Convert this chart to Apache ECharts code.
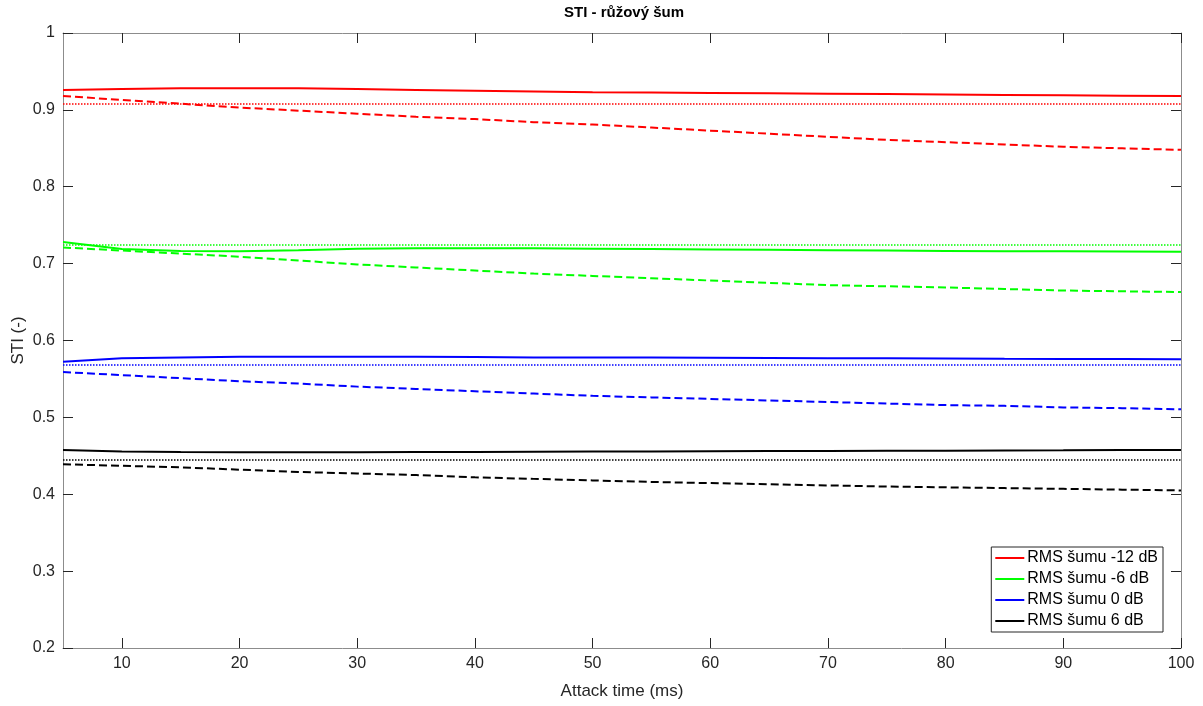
<!DOCTYPE html>
<html>
<head>
<meta charset="utf-8">
<script src="https://cdn.jsdelivr.net/npm/echarts@6/dist/echarts.min.js"></script>
<style>html,body{margin:0;padding:0;background:#fff}#c{width:1203px;height:706px}</style>
</head>
<body>
<div id="c"></div>
<script>
// Attack time (ms)
var attack = [5,10,15,20,25,30,35,40,45,50,55,60,65,70,75,80,85,90,95,100];
var xTicks = [10,20,30,40,50,60,70,80,90,100];
var yTicks = [0.2,0.3,0.4,0.5,0.6,0.7,0.8,0.9,1];

// RMS šumu -12 dB
var red_solid  = [0.926,0.927,0.928,0.928,0.928,0.927,0.926,0.925,0.924,0.923,0.9225,0.922,0.9215,0.921,0.9205,0.920,0.9195,0.919,0.9185,0.918];
var red_dashed = [0.918,0.913,0.908,0.903,0.899,0.895,0.891,0.888,0.884,0.881,0.877,0.873,0.869,0.865,0.861,0.858,0.855,0.852,0.850,0.848];
var red_dotted = [0.9075,0.9075,0.9075,0.9075,0.9075,0.9075,0.9075,0.9075,0.9075,0.9075,0.9075,0.9075,0.9075,0.9075,0.9075,0.9075,0.9075,0.9075,0.9075,0.9075];
// RMS šumu -6 dB
var green_solid  = [0.728,0.719,0.7165,0.716,0.7175,0.7195,0.720,0.720,0.720,0.7195,0.719,0.7185,0.718,0.7175,0.717,0.7165,0.716,0.716,0.7158,0.7155];
var green_dashed = [0.721,0.717,0.713,0.709,0.704,0.699,0.695,0.691,0.687,0.684,0.681,0.678,0.675,0.672,0.6705,0.669,0.667,0.665,0.664,0.663];
var green_dotted = [0.7243,0.7243,0.7243,0.7243,0.7243,0.7243,0.7243,0.7243,0.7243,0.7243,0.7243,0.7243,0.7243,0.7243,0.7243,0.7243,0.7243,0.7243,0.7243,0.7243];
// RMS šumu 0 dB
var blue_solid  = [0.5725,0.577,0.578,0.579,0.579,0.579,0.579,0.5785,0.578,0.578,0.5778,0.5775,0.5772,0.577,0.5768,0.5765,0.5762,0.576,0.5758,0.5755];
var blue_dashed = [0.559,0.555,0.551,0.547,0.544,0.540,0.537,0.534,0.531,0.528,0.526,0.524,0.522,0.520,0.518,0.516,0.515,0.513,0.512,0.5105];
var blue_dotted = [0.568,0.568,0.568,0.568,0.568,0.568,0.568,0.568,0.568,0.568,0.568,0.568,0.568,0.568,0.568,0.568,0.568,0.568,0.568,0.568];
// RMS šumu 6 dB
var black_solid  = [0.4577,0.4555,0.4548,0.4546,0.4546,0.4547,0.4549,0.4551,0.4553,0.4555,0.4557,0.4559,0.4561,0.4563,0.4565,0.4567,0.4569,0.4571,0.4574,0.4576];
var black_dashed = [0.439,0.437,0.435,0.432,0.429,0.427,0.425,0.422,0.420,0.418,0.416,0.4145,0.413,0.4115,0.410,0.409,0.408,0.407,0.406,0.405];
var black_dotted = [0.4446,0.4446,0.4446,0.4446,0.4446,0.4446,0.4446,0.4446,0.4446,0.4446,0.4446,0.4446,0.4446,0.4446,0.4446,0.4446,0.4446,0.4446,0.4446,0.4446];

var names = ['RMS šumu -12 dB','RMS šumu -6 dB','RMS šumu 0 dB','RMS šumu 6 dB'];
var colors = ['#ff0000','#00ff00','#0000ff','#000000'];
var groups = [
  [red_solid, red_dashed, red_dotted],
  [green_solid, green_dashed, green_dotted],
  [blue_solid, blue_dashed, blue_dotted],
  [black_solid, black_dashed, black_dotted]
];

function pairs(vals){ return attack.map(function(x,i){ return [x, vals[i]]; }); }

var FONT = 'Liberation Sans, Arial, Helvetica, sans-serif';
var series = [];
groups.forEach(function(g, k){
  series.push({name: names[k], type:'line', data: pairs(g[0]), showSymbol:false, symbol:'none',
    lineStyle:{color:colors[k], width:2, type:'solid'}, itemStyle:{color:colors[k]}, animation:false, z:3});
  series.push({name: names[k]+' d', type:'line', data: pairs(g[1]), showSymbol:false, symbol:'none',
    lineStyle:{color:colors[k], width:2, type:[8,4]}, itemStyle:{color:colors[k]}, animation:false, z:2});
  series.push({name: names[k]+' p', type:'line', data: pairs(g[2]), showSymbol:false, symbol:'none',
    lineStyle:{color:colors[k], width:1.5, type:[1.5,1.5]}, itemStyle:{color:colors[k]}, animation:false, z:2});
});

var axisLineStyle = {color:'#8c8c8c', width:1};
var tickStyle = {color:'#262626', width:1};

var chart = echarts.init(document.getElementById('c'), null, {renderer:'canvas'});
chart.setOption({
  backgroundColor:'#fff',
  animation:false,
  title:{text:'STI - růžový šum', left:619, top:0, textAlign:'center',
    textStyle:{fontFamily:FONT, fontSize:15, fontWeight:'bold', color:'#000'}},
  grid:{left:63, right:22, top:33, bottom:58, containLabel:false, outerBoundsMode:'none'},
  legend:{
    data: names.map(function(n,k){ return {name:n, icon:'rect'}; }),
    orient:'vertical', right:40, bottom:74,
    itemWidth:29, itemHeight:2, itemGap:5,
    padding:[3,5,3,4],
    backgroundColor:'#fff', borderColor:'#262626', borderWidth:1, borderRadius:0,
    textStyle:{fontFamily:FONT, fontSize:16, color:'#000', padding:[0,0,0,-2]},
    selectedMode:false
  },
  xAxis:[{
    type:'value', min:5, max:100, position:'bottom',
    name:'Attack time (ms)', nameLocation:'middle', nameGap:35, nameMoveOverlap:false,
    nameTextStyle:{fontFamily:FONT, fontSize:17, color:'#262626'},
    axisLine:{show:true, onZero:false, lineStyle:axisLineStyle},
    axisTick:{show:true, inside:true, length:10, customValues:xTicks, lineStyle:tickStyle},
    axisLabel:{show:true, customValues:xTicks, margin:8, fontFamily:FONT, fontSize:16, color:'#262626'},
    splitLine:{show:false}
  },{
    type:'value', min:5, max:100, position:'top',
    axisLine:{show:true, onZero:false, lineStyle:axisLineStyle},
    axisTick:{show:true, inside:true, length:10, customValues:xTicks, lineStyle:tickStyle},
    axisLabel:{show:false}, splitLine:{show:false}
  }],
  yAxis:[{
    type:'value', min:0.2, max:1, interval:0.1, position:'left',
    name:'STI (-)', nameLocation:'middle', nameGap:36, nameMoveOverlap:false,
    nameTextStyle:{fontFamily:FONT, fontSize:17, color:'#262626'},
    axisLine:{show:true, onZero:false, lineStyle:axisLineStyle},
    axisTick:{show:true, inside:true, length:10, lineStyle:tickStyle},
    axisLabel:{show:true, margin:8, fontFamily:FONT, fontSize:16, color:'#262626',
      formatter:function(v){ return String(Math.round(v*10)/10); }},
    splitLine:{show:false}
  },{
    type:'value', min:0.2, max:1, interval:0.1, position:'right',
    axisLine:{show:true, onZero:false, lineStyle:axisLineStyle},
    axisTick:{show:true, inside:true, length:10, lineStyle:tickStyle},
    axisLabel:{show:false}, splitLine:{show:false}
  }],
  series: series
});
</script>
</body>
</html>
